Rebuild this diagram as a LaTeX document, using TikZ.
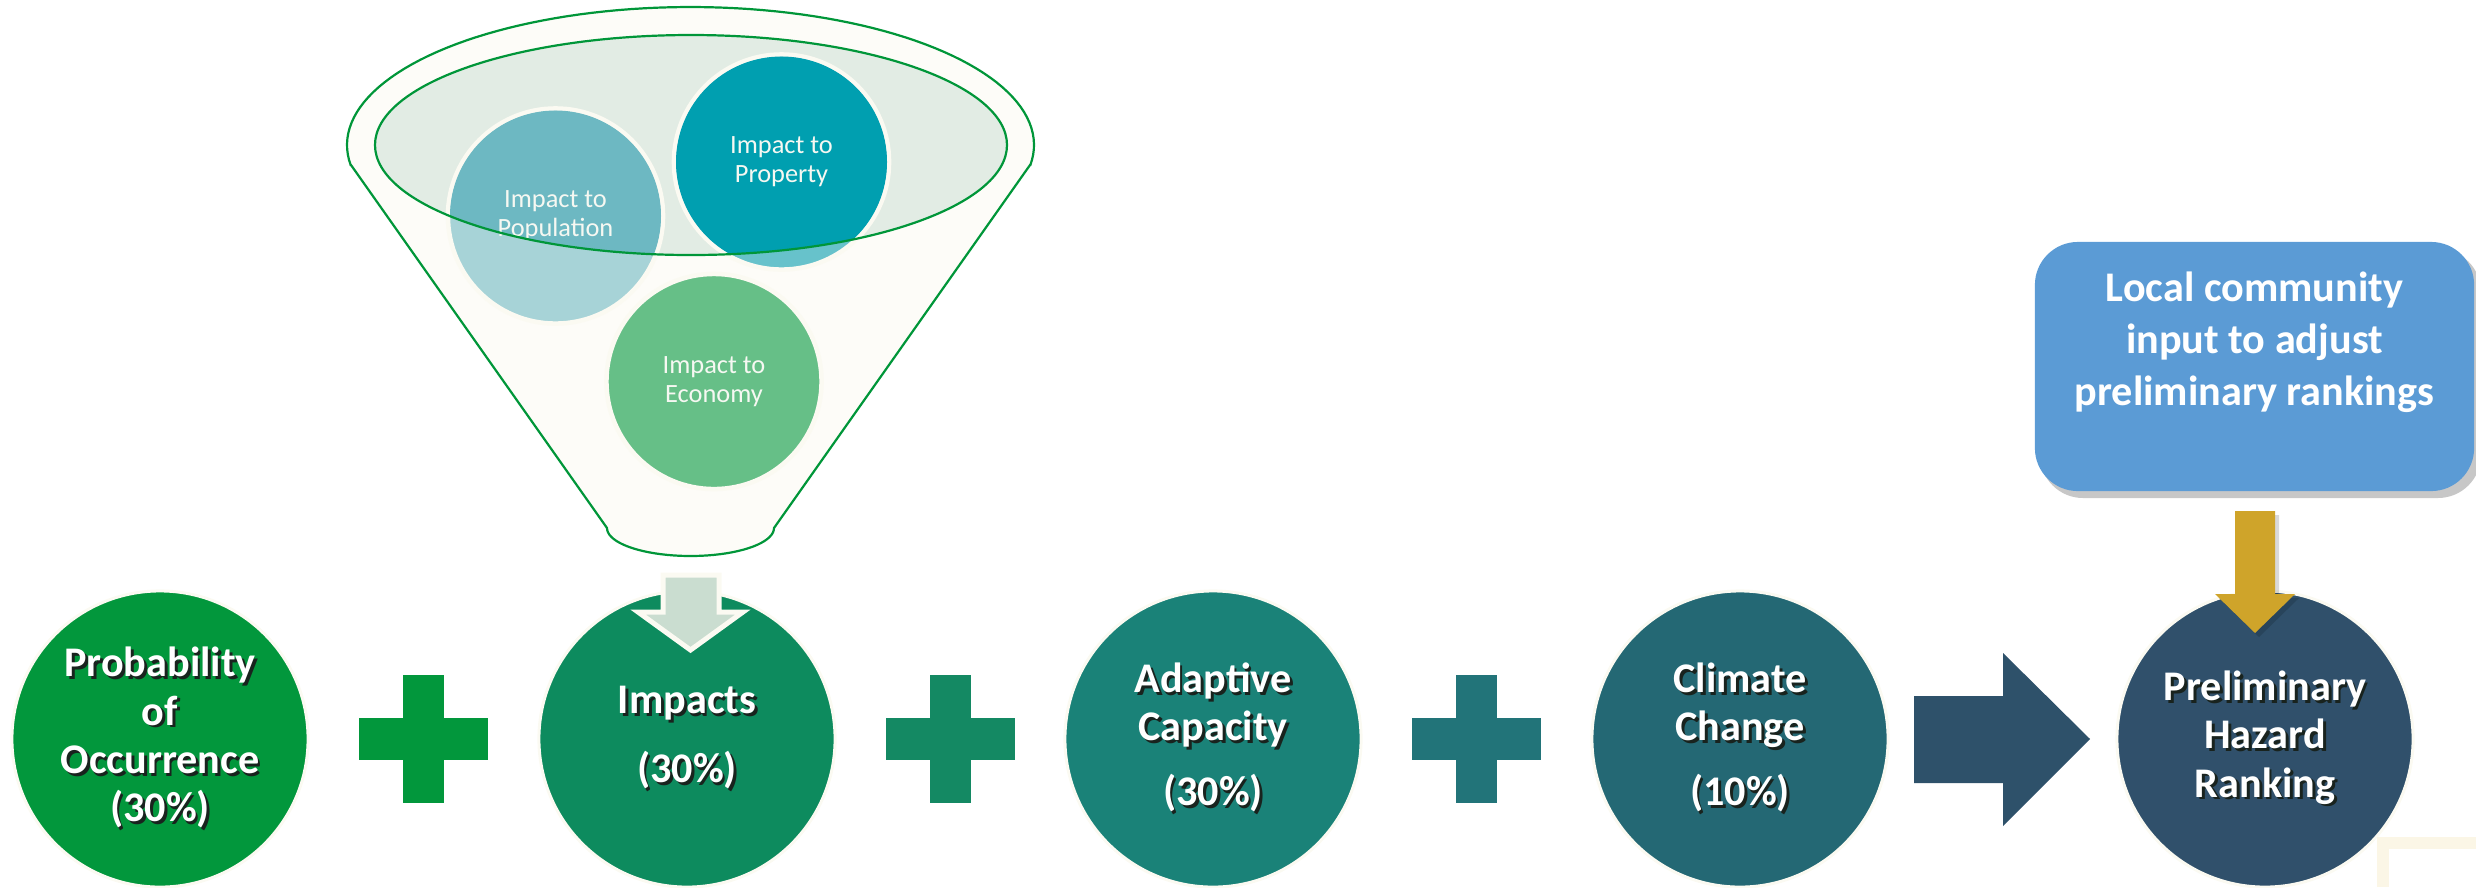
\documentclass[tikz,border=0pt]{standalone}
\usepackage{fontspec}
\setmainfont{Carlito}
\definecolor{cA}{RGB}{2,151,60}
\definecolor{cB}{RGB}{13,139,94}
\definecolor{cBp}{RGB}{20,137,99}
\definecolor{cC}{RGB}{26,130,120}
\definecolor{cCp}{RGB}{34,116,121}
\definecolor{cD}{RGB}{36,104,116}
\definecolor{cE}{RGB}{48,80,107}
\definecolor{bigarr}{RGB}{46,81,106}
\definecolor{boxblue}{RGB}{91,155,213}
\definecolor{goldc}{RGB}{207,164,42}
\definecolor{funline}{RGB}{0,150,57}
\definecolor{funfill}{RGB}{253,252,248}
\definecolor{innerfill}{RGB}{226,236,228}
\definecolor{popdark}{RGB}{109,184,194}
\definecolor{poplight}{RGB}{167,211,215}
\definecolor{propdark}{RGB}{0,159,176}
\definecolor{proplight}{RGB}{103,194,203}
\definecolor{econ}{RGB}{102,191,135}
\definecolor{smarr}{RGB}{202,221,208}
\definecolor{offw}{RGB}{251,250,242}
\definecolor{ftxt}{RGB}{246,248,242}
\definecolor{beige}{RGB}{250,244,226}
\definecolor{shadowc}{RGB}{25,35,30}
\newcommand{\sh}[1]{\rlap{\hspace{0.8pt}\raisebox{-0.8pt}{\color{shadowc}#1}}#1}
\newcommand{\plussign}[2]{\fill[#2] (#1-64.5,718) rectangle (#1+64.5,760); \fill[#2] (#1-20.5,675) rectangle (#1+20.5,803);}
\begin{document}
\begin{tikzpicture}[x=0.01cm,y=-0.01cm,
  maincirc/.style={circle, minimum size=2.96cm, inner sep=0pt, draw=offw, line width=0.03cm, text=white, align=center, font=\bfseries\fontsize{12}{13.7}\selectfont},
  fcirc/.style={circle, minimum size=2.15cm, inner sep=0pt, draw=offw, line width=0.045cm},
  ftext/.style={text=ftxt, align=center, font=\fontsize{7.5}{8.3}\selectfont, inner sep=0pt},
  funnelline/.style={draw=funline, line width=0.022cm},
  bluebox/.style={rectangle, rounded corners=0.43cm, minimum width=4.39cm, minimum height=2.49cm, fill=boxblue, inner sep=0pt},
  boxtext/.style={text=white, align=center, font=\bfseries\fontsize{12}{14.8}\selectfont, inner sep=0pt},
  smallarrow/.style={fill=smarr, draw=offw, line width=0.05cm, line join=miter}
]
\useasboundingbox (0,0) rectangle (2476,887);
% funnel body
\draw[funnelline, fill=funfill] (351,165) -- (607,528)
  -- plot[domain=180:0,samples=40] ({690.5+83.5*cos(\x)},{528+28*sin(\x)})
  -- (1030,165)
  -- plot[domain=-8.33:188.33,samples=90] ({690.5+343.5*cos(\x)},{145-138*sin(\x)}) -- cycle;
\fill[innerfill] (691,145) ellipse [x radius=316, y radius=110];
% funnel circles
\node[fcirc, fill=poplight] (pop) at (555.5,216) {};
\node[fcirc, fill=proplight] (prop) at (781.5,162) {};
\node[fcirc, fill=econ] (eco) at (714,381.5) {};
\begin{scope}
  \clip (691,145) ellipse [x radius=316, y radius=110];
  \fill[popdark] (pop.center) circle [radius=105.5];
  \fill[propdark] (prop.center) circle [radius=105.5];
\end{scope}
\node[ftext] (poptxt) at (pop.center) {Impact to\\Population};
\node[ftext] (proptxt) at (prop.center) {Impact to\\Property};
\node[ftext] (ecotxt) at (eco.center) {Impact to\\Economy};
\draw[funnelline] (691,145) ellipse [x radius=316, y radius=110];
% main circles
\node[maincirc, fill=cA] (prob) at (160,739) {\sh{Probability}\\\sh{of}\\\sh{Occurrence}\\\sh{(30\%)}};
\node[maincirc, fill=cB] (imp) at (687,739) {\sh{Impacts}\\[6pt]\sh{(30\%)}};
\node[maincirc, fill=cC] (adapt) at (1213,739) {\sh{Adaptive}\\\sh{Capacity}\\[4.8pt]\sh{(30\%)}};
\node[maincirc, fill=cD] (clim) at (1740,739) {\sh{Climate}\\\sh{Change}\\[4.8pt]\sh{(10\%)}};
\node[maincirc, fill=cE] (prel) at (2265,739) {\sh{Preliminary}\\\sh{Hazard}\\\sh{Ranking}};
% small funnel arrow
\draw[smallarrow] (663,575) -- (719,575) -- (719,612) -- (743,612) -- (690.5,650) -- (638,612) -- (663,612) -- cycle;
% plus signs
\plussign{423.5}{cA}
\plussign{950}{cBp}
\plussign{1476.5}{cCp}
% big arrow
\fill[bigarr] (1914,696) -- (2003,696) -- (2003,653) -- (2090,739) -- (2003,826) -- (2003,783) -- (1914,783) -- cycle;
% blue box
\fill[black, opacity=0.22, rounded corners=0.43cm] (2040,249) rectangle (2481,498);
\node[bluebox] (local) at (2254.5,366.5) {};
\node[boxtext] (localtxt) at (2254.5,342) {Local community\\input to adjust\\preliminary rankings};
% gold arrow
\fill[black, opacity=0.15] (2239,515) -- (2279,515) -- (2279,598) -- (2299,598) -- (2259,637) -- (2219,598) -- (2239,598) -- cycle;
\fill[goldc] (2235,511) -- (2275,511) -- (2275,594) -- (2295,594) -- (2255,633) -- (2215,594) -- (2235,594) -- cycle;
% beige corner
\draw[beige, line width=0.12cm, opacity=0.85] (2382.5,887) -- (2382.5,843) -- (2476,843);
\end{tikzpicture}
\end{document}
